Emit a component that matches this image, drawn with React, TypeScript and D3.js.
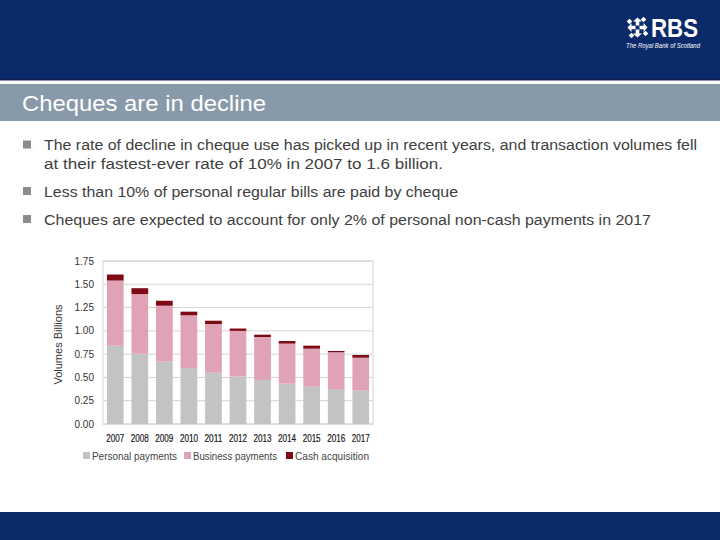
import { useEffect, useRef } from 'react';
import * as d3 from 'd3';

const years = ['2007', '2008', '2009', '2010', '2011', '2012', '2013', '2014', '2015', '2016', '2017'];
const personal = [0.84, 0.755, 0.67, 0.6, 0.55, 0.51, 0.472, 0.433, 0.401, 0.376, 0.358];
const business = [0.7, 0.64, 0.6, 0.567, 0.523, 0.49, 0.462, 0.43, 0.408, 0.394, 0.354];
const cash = [0.065, 0.063, 0.053, 0.039, 0.036, 0.025, 0.025, 0.028, 0.032, 0.014, 0.029];
const yTicks = [0, 0.25, 0.5, 0.75, 1, 1.25, 1.5, 1.75];
const seriesNames = ['Personal payments', 'Business payments', 'Cash acquisition'];
const seriesColors = ['#c3c3c3', '#e0a3b6', '#7d0a14'];

// each bullet: lines and the width they take up on the slide
const bullets = [
  [['The rate of decline in cheque use has picked up in recent years, and transaction volumes fell', 653],
    ['at their fastest-ever rate of 10% in 2007 to 1.6 billion.', 399]],
  [['Less than 10% of personal regular bills are paid by cheque', 414]],
  [['Cheques are expected to account for only 2% of personal non-cash payments in 2017', 607]],
] as [string, number][][];
const bulletBaselines = [[150, 169], [196.5], [224.5]];

const App = () => {
  const svgRef = useRef<SVGSVGElement>(null);

  useEffect(() => {
    if (!svgRef.current) return;
    const svg = d3.select(svgRef.current);
    svg.selectAll('*').remove();

    const font = '"Liberation Sans", Arial, sans-serif';

    // header + footer
    svg.append('rect').attr('x', 0).attr('y', 0).attr('width', 720).attr('height', 80).attr('fill', '#0b2a6a');
    svg.append('rect').attr('x', 0).attr('y', 79).attr('width', 720).attr('height', 1.5).attr('fill', '#10204a');
    svg.append('rect').attr('x', 0).attr('y', 84).attr('width', 720).attr('height', 37).attr('fill', '#8899aa');
    svg.append('text').attr('x', 22).attr('y', 111).text('Cheques are in decline')
      .attr('textLength', 244).attr('lengthAdjust', 'spacingAndGlyphs')
      .style('font-family', font).style('font-size', '22px').style('fill', '#fff');
    svg.append('rect').attr('x', 0).attr('y', 512).attr('width', 720).attr('height', 28).attr('fill', '#0b2a6a');

    // logo
    const logo = svg.append('g');
    logo.append('text').attr('x', 651).attr('y', 37).text('RBS')
      .attr('textLength', 47).attr('lengthAdjust', 'spacingAndGlyphs')
      .style('font-family', font).style('font-weight', 'bold').style('font-size', '26px').style('fill', '#fff');
    logo.append('text').attr('x', 626).attr('y', 48).text('The Royal Bank of Scotland')
      .attr('textLength', 74).attr('lengthAdjust', 'spacingAndGlyphs')
      .style('font-family', font).style('font-style', 'italic').style('font-size', '7px').style('fill', '#fff');
    const cx = 637.5, cy = 27.5;
    d3.range(4).forEach(k => {
      const g = logo.append('g').attr('transform', `translate(${cx},${cy}) rotate(${k * 90})`);
      g.append('path').attr('d', 'M-1.8,-2 L-1.8,-6 L-4.5,-6 L0,-10 L4.5,-6 L1.8,-6 L1.8,-2 Z').attr('fill', '#fff');
      g.append('rect').attr('x', 4).attr('y', -10).attr('width', 4).attr('height', 4).attr('fill', '#fff')
        .attr('transform', 'rotate(45,6,-8)');
    });

    // bullets
    bullets.forEach((lines, bi) => {
      const base = bulletBaselines[bi];
      svg.append('rect').attr('x', 23).attr('y', base[0] - 9.5).attr('width', 8).attr('height', 8).attr('fill', '#8c8c8c');
      lines.forEach(([ln, w], li) => {
        svg.append('text').attr('x', 44).attr('y', base[li]).text(ln)
          .attr('textLength', w).attr('lengthAdjust', 'spacingAndGlyphs')
          .style('font-family', font).style('font-size', '15.5px').style('fill', '#404040');
      });
    });

    // chart
    const left = 103, right = 373, top = 261, bottom = 424;
    const x = d3.scaleBand().domain(years).range([left, right]).paddingInner(0.32).paddingOuter(0.16);
    const y = d3.scaleLinear().domain([0, 1.75]).range([bottom, top]);

    const chart = svg.append('g');
    chart.append('rect').attr('x', left).attr('y', top).attr('width', right - left).attr('height', bottom - top)
      .attr('fill', '#fff').attr('stroke', '#d4d4d4');

    chart.selectAll('line.grid').data(yTicks).enter().append('line')
      .attr('class', 'grid')
      .attr('x1', left).attr('x2', right)
      .attr('y1', d => y(d)).attr('y2', d => y(d))
      .attr('stroke', '#d4d4d4').attr('stroke-width', 1);

    chart.selectAll('text.ytick').data(yTicks).enter().append('text')
      .attr('class', 'ytick')
      .attr('x', 94).attr('y', d => y(d)).attr('dy', '0.35em').attr('text-anchor', 'end')
      .text(d => d3.format('.2f')(d))
      .style('font-family', font).style('font-size', '10px').style('fill', '#333');

    chart.append('text')
      .attr('transform', `translate(62,${(top + bottom) / 2 + 2}) rotate(-90)`)
      .attr('text-anchor', 'middle')
      .text('Volumes Billions')
      .style('font-family', font).style('font-size', '11px').style('fill', '#333');

    const rows = years.map((yr, i) => ({ year: yr, p: personal[i], b: business[i], c: cash[i] }));
    const stack = d3.stack<any>().keys(['p', 'b', 'c'])(rows);

    stack.forEach((layer, li) => {
      chart.selectAll(`rect.s${li}`).data(layer).enter().append('rect')
        .attr('class', `s${li}`)
        .attr('x', d => x(d.data.year) as number)
        .attr('width', x.bandwidth())
        .attr('y', d => y(d[1]))
        .attr('height', d => y(d[0]) - y(d[1]))
        .attr('fill', seriesColors[li]);
    });

    chart.selectAll('text.xtick').data(years).enter().append('text')
      .attr('class', 'xtick')
      .attr('x', d => (x(d) as number) + x.bandwidth() / 2 - 9).attr('y', 438).attr('dy', '0.35em')
      .attr('textLength', 18).attr('lengthAdjust', 'spacingAndGlyphs')
      .text(d => d)
      .style('font-family', font).style('font-size', '10px').style('fill', '#1a1a1a')
      .style('stroke', '#1a1a1a').style('stroke-width', '0.2px');

    const legendX = [83, 184, 286];
    const legendW = [85, 84, 74];
    seriesNames.forEach((name, i) => {
      chart.append('rect').attr('x', legendX[i]).attr('y', 452).attr('width', 7).attr('height', 7).attr('fill', seriesColors[i]);
      chart.append('text').attr('x', legendX[i] + 9).attr('y', 456).attr('dy', '0.35em').text(name)
        .attr('textLength', legendW[i]).attr('lengthAdjust', 'spacingAndGlyphs')
        .style('font-family', font).style('font-size', '10px').style('fill', '#444');
    });
  }, []);

  return (
    <svg ref={svgRef} width={720} height={540}
      style={{ position: 'absolute', left: 0, top: 0, background: '#fff' }} />
  );
};

export default App;
